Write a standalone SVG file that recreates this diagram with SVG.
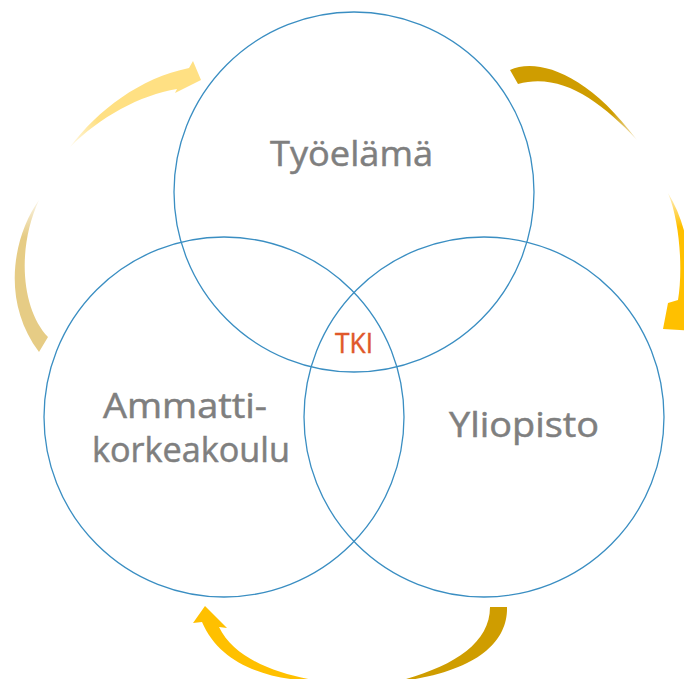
<svg xmlns="http://www.w3.org/2000/svg" width="684" height="679" viewBox="0 0 684 679">
  <style>
    .ring { fill: none; stroke: #3A8EC2; stroke-width: 1.3; }
    .label { font-family: "Open Sans", "Noto Sans", "Liberation Sans", sans-serif; font-size: 34px; fill: #7F7F7F; stroke: #7F7F7F; stroke-width: 0.5; }
    .core { font-family: "Open Sans", "Noto Sans", "Liberation Sans", sans-serif; font-size: 27px; fill: #E0582A; stroke: #E0582A; stroke-width: 0.4; }
  </style>
  <defs>
    <!-- each curved arrow piece fades out toward its thin end -->
    <linearGradient id="fadeUL" gradientUnits="userSpaceOnUse" x1="200" y1="75" x2="70" y2="147">
      <stop offset="0" stop-color="#FFE083"/>
      <stop offset="0.75" stop-color="#FFE083"/>
      <stop offset="1" stop-color="#FFE083" stop-opacity="0.2"/>
    </linearGradient>
    <linearGradient id="fadeL" gradientUnits="userSpaceOnUse" x1="44" y1="345" x2="39" y2="200">
      <stop offset="0" stop-color="#E6CC85"/>
      <stop offset="0.75" stop-color="#E6CC85"/>
      <stop offset="1" stop-color="#E6CC85" stop-opacity="0.2"/>
    </linearGradient>
    <linearGradient id="fadeTR" gradientUnits="userSpaceOnUse" x1="514" y1="77" x2="637" y2="140">
      <stop offset="0" stop-color="#CF9D00"/>
      <stop offset="0.75" stop-color="#CF9D00"/>
      <stop offset="1" stop-color="#CF9D00" stop-opacity="0.2"/>
    </linearGradient>
    <linearGradient id="fadeR" gradientUnits="userSpaceOnUse" x1="675" y1="330" x2="668" y2="193">
      <stop offset="0" stop-color="#FFC000"/>
      <stop offset="0.75" stop-color="#FFC000"/>
      <stop offset="1" stop-color="#FFC000" stop-opacity="0.2"/>
    </linearGradient>
  </defs>

  <!-- circular flow arrows -->
  <g id="connectors">
    <path id="arrow-left-lower" d="M39,200 C14,235 0,300 39,352 L48,337 C22,310 16,250 39,200 Z" fill="url(#fadeL)"/>
    <path id="arrow-left-upper" d="M70,147 C98,110 140,78 189,68 L193,61 L201,80 L175,93 L177,89 C140,95 100,117 70,147 Z" fill="url(#fadeUL)"/>
    <path id="arrow-right-upper" d="M510,70 C535,58 585,70 637,140 C600,100 560,72 518,84 Z" fill="url(#fadeTR)"/>
    <path id="arrow-right-lower" d="M668,193 C680,222 683,270 678,300 L668,303 L663,329 L700,331 L690,310 C694,270 688,225 668,193 Z" fill="url(#fadeR)"/>
    <path id="arrow-bottom-right" d="M490,607 L507,607 C508,640 480,672 395,682 C450,668 490,645 490,607 Z" fill="#CF9D00"/>
    <path id="arrow-bottom-left" d="M205,606 L227,628 L219,627 C235,660 280,675 320,681 C270,681 220,665 202,622 L193,623 Z" fill="#FFC000"/>
  </g>

  <g id="node-tyoelama">
    <circle class="ring" cx="354" cy="192" r="180"/>
    <text class="label" x="270" y="166" textLength="163" lengthAdjust="spacingAndGlyphs">Työelämä</text>
  </g>

  <g id="node-amk">
    <circle class="ring" cx="224" cy="417" r="180"/>
    <text class="label" x="103" y="418" textLength="164" lengthAdjust="spacingAndGlyphs">Ammatti-</text>
    <text class="label" x="92" y="462" textLength="198" lengthAdjust="spacingAndGlyphs">korkeakoulu</text>
  </g>

  <g id="node-yliopisto">
    <circle class="ring" cx="484" cy="417" r="180"/>
    <text class="label" x="449" y="437" textLength="150" lengthAdjust="spacingAndGlyphs">Yliopisto</text>
  </g>

  <g id="node-tki">
    <text class="core" x="335" y="353" textLength="38" lengthAdjust="spacingAndGlyphs">TKI</text>
  </g>
</svg>
